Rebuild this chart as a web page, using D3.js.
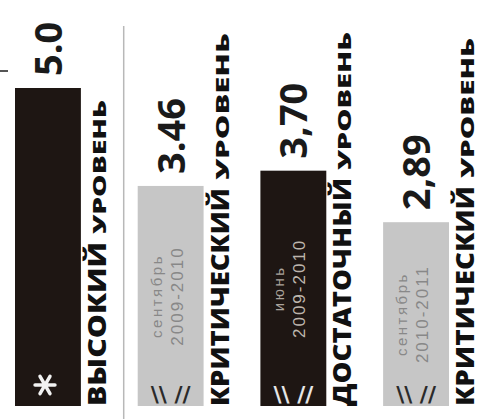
<!DOCTYPE html>
<html>
<head>
<meta charset="utf-8">
<script src="https://cdn.jsdelivr.net/npm/d3@7"></script>
<style>
  html, body { margin: 0; padding: 0; background: #fff; overflow: hidden; }
</style>
</head>
<body>
<div id="wrapper"></div>
<script>
// data
const categories = ["ВЫСОКИЙ УРОВЕНЬ", "КРИТИЧЕСКИЙ УРОВЕНЬ", "ДОСТАТОЧНЫЙ УРОВЕНЬ", "КРИТИЧЕСКИЙ УРОВЕНЬ"];
const values = [5.0, 3.46, 3.70, 2.89];
const valueLabels = ["5.0", "3.46", "3,70", "2,89"];
const periodMonths = [null, "сентябрь", "июнь", "сентябрь"];
const periodYears = [null, "2009-2010", "2009-2010", "2010-2011"];

// layout (fitted lengths of the rotated level words)
const firstWordLen = [164, 218, 228, 220];
const secondWordLen = [134, 147, 138, 140];

const dimensions = { width: 481, height: 419 };

const svg = d3.select("#wrapper")
  .append("svg")
  .attr("width", dimensions.width)
  .attr("height", dimensions.height);

const x = d3.scaleBand()
  .domain(d3.range(values.length))
  .range([15, 449])
  .paddingInner(0.463)
  .paddingOuter(0);

const y = d3.scaleLinear()
  .domain([0, 5])
  .range([406, 88]);

const bw = x.bandwidth();
const isDark = i => i % 2 === 0;
const fill = i => isDark(i) ? "#1e1613" : "#c6c6c6";

// small tick at top-left and separator line
svg.append("line")
  .attr("x1", 0).attr("x2", 8)
  .attr("y1", 71).attr("y2", 71)
  .attr("stroke", "#555").attr("stroke-width", 2);

svg.append("line")
  .attr("x1", x(1) - 14).attr("x2", x(1) - 14)
  .attr("y1", 26).attr("y2", dimensions.height)
  .attr("stroke", "#b8b8b8").attr("stroke-width", 1.5);

const g = svg.selectAll("g.bar")
  .data(values)
  .join("g")
  .attr("class", "bar");

g.append("rect")
  .attr("x", (d, i) => x(i))
  .attr("y", d => y(d))
  .attr("width", bw)
  .attr("height", d => y(0) - y(d))
  .attr("fill", (d, i) => fill(i));

// value labels, rotated
g.append("text")
  .attr("transform", (d, i) => `translate(${x(i) + bw / 2 + 14},${y(d) - 12}) rotate(-90)`)
  .attr("text-anchor", "start")
  .attr("font-family", "'Open Sans', sans-serif")
  .attr("font-weight", 700)
  .attr("font-size", 38)
  .attr("fill", "#1a1a1a")
  .text((d, i) => valueLabels[i]);

// level labels: big first word + smaller second word
g.append("text")
  .attr("transform", (d, i) => `translate(${x(i) + bw + 25},${y(0)}) rotate(-90)`)
  .attr("text-anchor", "start")
  .attr("font-family", "'Open Sans', sans-serif")
  .attr("font-weight", 800)
  .attr("font-size", 24)
  .attr("fill", "#111")
  .attr("textLength", (d, i) => firstWordLen[i])
  .attr("lengthAdjust", "spacingAndGlyphs")
  .text((d, i) => categories[i].split(" ")[0]);

g.append("text")
  .attr("transform", (d, i) => `translate(${x(i) + bw + 25},${y(0) - firstWordLen[i] - 8}) rotate(-90)`)
  .attr("text-anchor", "start")
  .attr("font-family", "'Open Sans', sans-serif")
  .attr("font-weight", 800)
  .attr("font-size", 18)
  .attr("fill", "#111")
  .attr("textLength", (d, i) => secondWordLen[i])
  .attr("lengthAdjust", "spacingAndGlyphs")
  .text((d, i) => categories[i].split(" ")[1]);

// period text inside bars
const inner = g.filter((d, i) => periodMonths[i] !== null);

inner.append("text")
  .attr("transform", d => {
    const k = values.indexOf(d);
    return `translate(${x(k) + 24},${(y(d) + y(0)) / 2}) rotate(-90)`;
  })
  .attr("text-anchor", "middle")
  .attr("font-family", "'Liberation Sans', sans-serif")
  .attr("font-size", 15)
  .attr("letter-spacing", 2.5)
  .attr("fill", d => isDark(values.indexOf(d)) ? "#aaa39c" : "#888")
  .text(d => periodMonths[values.indexOf(d)]);

inner.append("text")
  .attr("transform", d => {
    const k = values.indexOf(d);
    return `translate(${x(k) + 45},${(y(d) + y(0)) / 2}) rotate(-90)`;
  })
  .attr("text-anchor", "middle")
  .attr("font-family", "'Liberation Sans', sans-serif")
  .attr("font-size", 17)
  .attr("letter-spacing", 2)
  .attr("fill", d => isDark(values.indexOf(d)) ? "#bdb5ad" : "#888")
  .text(d => periodYears[values.indexOf(d)]);

// break marks near bar bottoms
inner.append("text")
  .attr("x", d => x(values.indexOf(d)) + bw / 2)
  .attr("y", y(0) - 4)
  .attr("text-anchor", "middle")
  .attr("font-family", "'DejaVu Sans', sans-serif")
  .attr("font-weight", 700)
  .attr("font-size", 22)
  .attr("fill", d => isDark(values.indexOf(d)) ? "#e6e6e6" : "#2a2a2a")
  .text("\\\\ //");

// asterisk on the first bar
svg.append("path")
  .attr("d", d3.symbol(d3.symbolAsterisk, 280)())
  .attr("transform", `translate(${x(0) + 30},${y(0) - 21}) rotate(90)`)
  .attr("fill", "none")
  .attr("stroke", "#f2f2f2")
  .attr("stroke-width", 3.5)
  .attr("stroke-linecap", "round");
</script>
</body>
</html>
